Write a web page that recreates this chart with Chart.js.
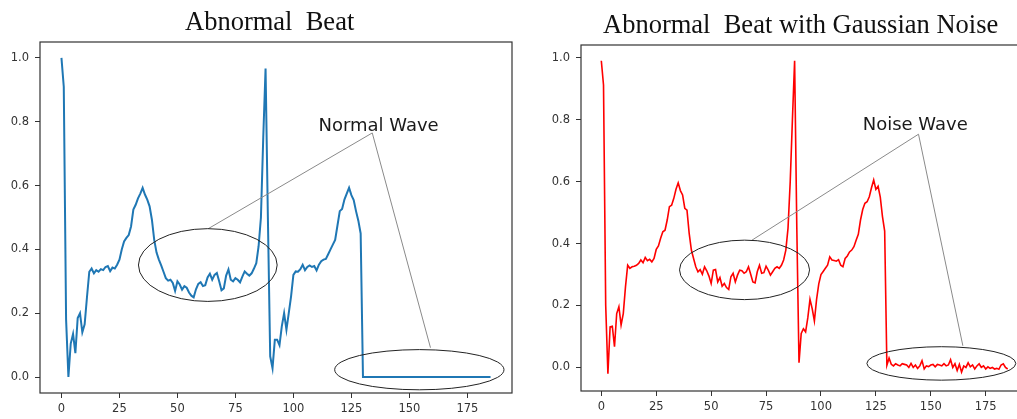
<!DOCTYPE html>
<html>
<head>
<meta charset="utf-8">
<script src="https://cdn.jsdelivr.net/npm/chart.js@4/dist/chart.umd.min.js"></script>
<style>
  html, body { margin: 0; padding: 0; background: #fff; width: 1017px; height: 419px; overflow: hidden; position: relative; }
  canvas { position: absolute; top: 0; }
  #c1 { left: 0px; }
  #c2 { left: 541px; }
  .ttl { position: absolute; font-family: "Liberation Serif", "Times New Roman", serif; font-size: 26.5px; color: #111; white-space: pre; line-height: 1; }
</style>
</head>
<body>
<canvas id="c1" width="520" height="419"></canvas>
<canvas id="c2" width="500" height="419"></canvas>
<div class="ttl" id="t1" style="left:185px; top:8px;">Abnormal  Beat</div>
<div class="ttl" id="t2" style="left:603px; top:11px;">Abnormal  Beat with Gaussian Noise</div>
<script>
// ---- data ----
const abnormalBeat = [
 1.000,0.910,0.180,0.000,0.105,0.135,0.075,0.185,0.200,0.140,
 0.165,0.250,0.330,0.340,0.325,0.335,0.330,0.338,0.335,0.345,
 0.348,0.332,0.343,0.340,0.352,0.368,0.400,0.425,0.436,0.445,
 0.472,0.525,0.540,0.560,0.575,0.593,0.572,0.556,0.535,0.493,
 0.430,0.390,0.368,0.350,0.330,0.310,0.302,0.305,0.295,0.270,
 0.300,0.290,0.274,0.285,0.280,0.265,0.255,0.250,0.275,0.292,
 0.297,0.285,0.288,0.312,0.324,0.305,0.320,0.326,0.300,0.272,
 0.278,0.318,0.337,0.305,0.300,0.310,0.305,0.297,0.315,0.331,
 0.324,0.318,0.325,0.340,0.357,0.410,0.500,0.750,0.967,0.500,
 0.065,0.028,0.117,0.117,0.100,0.159,0.200,0.148,0.200,0.253,
 0.320,0.331,0.330,0.338,0.352,0.335,0.345,0.350,0.345,0.348,
 0.334,0.352,0.363,0.368,0.370,0.385,0.400,0.415,0.430,0.475,
 0.520,0.527,0.556,0.575,0.593,0.570,0.555,0.520,0.490,0.450,
 0,0,0,0,0,0,0,0,0,0,
 0,0,0,0,0,0,0,0,0,0,
 0,0,0,0,0,0,0,0,0,0,
 0,0,0,0,0,0,0,0,0,0,
 0,0,0,0,0,0,0,0,0,0,
 0,0,0,0,0,0
];
const noisyBeat = [
 0.990,0.912,0.200,-0.020,0.131,0.133,0.067,0.174,0.196,0.137,
 0.174,0.260,0.330,0.320,0.325,0.327,0.330,0.336,0.347,0.338,
 0.355,0.345,0.349,0.341,0.352,0.381,0.392,0.417,0.438,0.443,
 0.476,0.519,0.524,0.546,0.575,0.596,0.571,0.557,0.514,0.508,
 0.433,0.379,0.352,0.325,0.309,0.316,0.301,0.325,0.312,0.295,
 0.271,0.314,0.316,0.276,0.290,0.262,0.271,0.258,0.252,0.293,
 0.304,0.276,0.298,0.314,0.312,0.304,0.309,0.325,0.301,0.276,
 0.273,0.309,0.330,0.304,0.306,0.327,0.314,0.298,0.309,0.320,
 0.325,0.320,0.330,0.347,0.379,0.450,0.600,0.800,0.990,0.450,
 0.015,0.110,0.125,0.115,0.160,0.220,0.190,0.150,0.220,0.270,
 0.300,0.310,0.320,0.330,0.357,0.347,0.345,0.343,0.348,0.330,
 0.325,0.352,0.360,0.373,0.379,0.390,0.411,0.430,0.476,0.510,
 0.530,0.535,0.551,0.580,0.605,0.575,0.585,0.550,0.487,0.440,
 0.007,0.030,0.010,0.005,0.012,0.008,0.005,0.012,0.010,0.008,
 0.000,0.013,0.000,0.008,-0.003,0.005,0.022,-0.005,0.005,0.003,
 0.008,0.010,0.002,0.010,0.008,0.005,0.012,0.005,0.008,0.025,
 0.000,0.012,-0.010,0.010,-0.015,0.005,0.000,0.015,0.002,0.008,
 -0.005,0.005,0.012,0.000,0.005,-0.005,0.002,-0.003,0.000,-0.005,
 -0.003,-0.006,0.008,0.012,0.000,-0.005
];
const sampleIndex = abnormalBeat.map((_, i) => i);
const xTicks = [0, 25, 50, 75, 100, 125, 150, 175];
const yTicks = [0.0, 0.2, 0.4, 0.6, 0.8, 1.0];
const leftTitle = "Abnormal  Beat";
const rightTitle = "Abnormal  Beat with Gaussian Noise";
const leftNote = "Normal Wave";
const rightNote = "Noise Wave";

// annotation geometry in data units
const leftAnno = {
  text: leftNote, textX: 110.8, textY: 0.772, joint: [134.0, 0.765],
  ends: [[63.3, 0.465], [159.1, 0.092]],
  ellipses: [[63.1, 0.351, 29.9, 0.114], [154.3, 0.023, 36.5, 0.063]]
};
const rightAnno = {
  text: rightNote, textX: 119.0, textY: 0.767, joint: [144.4, 0.753],
  ends: [[68.6, 0.411], [164.6, 0.070]],
  ellipses: [[65.2, 0.315, 29.6, 0.096], [154.8, 0.013, 33.9, 0.054]]
};

const framePlugin = {
  id: 'frameAnno',
  afterDatasetsDraw(chart, args, opts) {
    const ctx = chart.ctx, a = chart.chartArea;
    const xs = chart.scales.x, ys = chart.scales.y;
    ctx.save();
    // frame
    ctx.strokeStyle = '#333';
    ctx.lineWidth = 1.2;
    ctx.strokeRect(a.left, a.top, a.right - a.left, a.bottom - a.top);
    const an = opts.anno;
    if (an) {
      const px = v => xs.getPixelForValue(v), py = v => ys.getPixelForValue(v);
      // leader lines
      ctx.strokeStyle = '#8a8a8a';
      ctx.lineWidth = 1;
      an.ends.forEach(e => {
        ctx.beginPath();
        ctx.moveTo(px(an.joint[0]), py(an.joint[1]));
        ctx.lineTo(px(e[0]), py(e[1]));
        ctx.stroke();
      });
      // ellipses
      ctx.strokeStyle = '#222';
      ctx.lineWidth = 1;
      an.ellipses.forEach(e => {
        const cx = px(e[0]), cy = py(e[1]);
        const rx = Math.abs(px(e[0] + e[2]) - cx), ry = Math.abs(py(e[1] + e[3]) - cy);
        ctx.beginPath();
        ctx.ellipse(cx, cy, rx, ry, 0, 0, Math.PI * 2);
        ctx.stroke();
      });
      // text
      ctx.fillStyle = '#1a1a1a';
      ctx.font = '18px "DejaVu Sans", sans-serif';
      ctx.textAlign = 'left';
      ctx.textBaseline = 'alphabetic';
      ctx.fillText(an.text, px(an.textX), py(an.textY));
    }
    ctx.restore();
  }
};

function makeChart(id, values, color, width, xr, yr, pad, xH, anno) {
  return new Chart(document.getElementById(id), {
    type: 'line',
    data: {
      labels: sampleIndex,
      datasets: [{
        data: values,
        borderColor: color,
        borderWidth: width,
        pointRadius: 0,
        tension: 0,
        fill: false
      }]
    },
    options: {
      responsive: false,
      animation: false,
      devicePixelRatio: 1,
      layout: { padding: pad },
      plugins: {
        legend: { display: false },
        tooltip: { enabled: false },
        frameAnno: { anno: anno }
      },
      scales: {
        x: {
          type: 'linear',
          min: xr[0], max: xr[1],
          afterBuildTicks: s => { s.ticks = xTicks.map(v => ({ value: v })); },
          afterFit: s => { s.height = xH; },
          grid: { drawOnChartArea: false, drawTicks: true, tickLength: 5, tickColor: '#333', tickWidth: 1 },
          border: { display: false },
          ticks: { color: '#333', padding: 4, maxRotation: 0, autoSkip: false,
                   font: { family: '"DejaVu Sans", sans-serif', size: 11.5 },
                   callback: v => String(v) }
        },
        y: {
          type: 'linear',
          min: yr[0], max: yr[1],
          afterBuildTicks: s => { s.ticks = yTicks.map(v => ({ value: v })); },
          afterFit: s => { s.width = 40; },
          grid: { drawOnChartArea: false, drawTicks: true, tickLength: 5, tickColor: '#333', tickWidth: 1 },
          border: { display: false },
          ticks: { color: '#333', padding: 6, autoSkip: false,
                   font: { family: '"DejaVu Sans", sans-serif', size: 11.5 },
                   callback: v => Number(v).toFixed(1) }
        }
      }
    },
    plugins: [framePlugin]
  });
}

makeChart('c1', abnormalBeat, '#1f77b4', 2, [-9.25, 194.25], [-0.05, 1.05],
          { left: 0, right: 8, top: 42, bottom: 0 }, 26, leftAnno);
makeChart('c2', noisyBeat, '#ff0000', 1.6, [-9.25, 194.25], [-0.076, 1.041],
          { left: 0, right: 13, top: 45, bottom: 0 }, 28, rightAnno);
</script>
</body>
</html>
